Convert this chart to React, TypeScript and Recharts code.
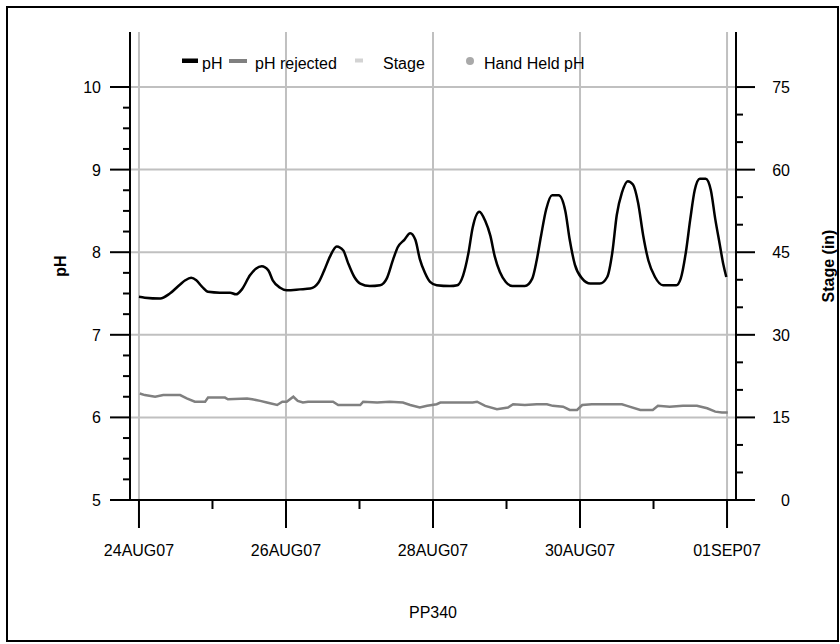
import React from 'react';
import { ComposedChart, Line, XAxis, YAxis, CartesianGrid, Legend, Label } from 'recharts';

// time in days since 24AUG07 00:00
const phTime = [0.00,0.08,0.29,0.42,0.56,0.63,0.71,0.78,0.86,0.94,1.10,1.24,1.32,1.40,1.51,1.59,1.67,1.76,1.82,1.92,2.01,2.19,2.33,2.44,2.52,2.60,2.69,2.78,2.84,2.93,3.01,3.14,3.28,3.37,3.46,3.52,3.61,3.69,3.76,3.82,3.89,3.96,4.05,4.23,4.33,4.41,4.48,4.54,4.63,4.71,4.78,4.84,4.91,4.99,5.08,5.25,5.35,5.41,5.47,5.54,5.62,5.71,5.80,5.86,5.93,6.03,6.14,6.27,6.37,6.44,6.50,6.57,6.65,6.72,6.79,6.86,6.93,7.02,7.13,7.31,7.37,7.44,7.50,7.56,7.63,7.71,7.78,7.84,7.90,7.95,7.99];
const phValue = [7.46,7.45,7.44,7.50,7.61,7.66,7.69,7.66,7.58,7.52,7.51,7.51,7.49,7.55,7.72,7.80,7.83,7.78,7.66,7.57,7.54,7.55,7.56,7.63,7.78,7.95,8.07,8.02,7.88,7.70,7.62,7.59,7.60,7.68,7.92,8.06,8.15,8.23,8.15,7.92,7.75,7.64,7.60,7.59,7.60,7.72,7.98,8.30,8.49,8.38,8.20,7.95,7.76,7.64,7.59,7.59,7.68,7.90,8.20,8.52,8.69,8.69,8.50,8.15,7.85,7.68,7.62,7.62,7.70,8.00,8.45,8.72,8.86,8.82,8.60,8.20,7.90,7.70,7.60,7.60,7.68,8.00,8.40,8.75,8.89,8.89,8.75,8.40,8.10,7.85,7.70];

const rejTime = [0.01,0.08,0.22,0.33,0.56,0.65,0.76,0.90,0.94,1.17,1.21,1.47,1.54,1.65,1.74,1.88,1.95,2.01,2.10,2.16,2.23,2.30,2.64,2.71,3.01,3.05,3.24,3.41,3.59,3.69,3.82,3.92,4.05,4.10,4.54,4.60,4.71,4.87,5.02,5.09,5.25,5.41,5.55,5.63,5.77,5.86,5.96,6.03,6.16,6.57,6.64,6.82,6.99,7.06,7.22,7.40,7.59,7.73,7.84,7.93,8.01];
const rejValue = [6.29,6.27,6.25,6.27,6.27,6.23,6.19,6.19,6.24,6.24,6.22,6.23,6.22,6.20,6.18,6.15,6.19,6.19,6.25,6.20,6.18,6.19,6.19,6.15,6.15,6.19,6.18,6.19,6.18,6.15,6.12,6.14,6.16,6.18,6.18,6.19,6.14,6.10,6.12,6.16,6.15,6.16,6.16,6.14,6.13,6.09,6.09,6.15,6.16,6.16,6.14,6.09,6.09,6.14,6.13,6.14,6.14,6.11,6.07,6.06,6.06];

const stageTime: number[] = [];
const stageValue: number[] = [];

const xTicks = [0, 1, 2, 3, 4, 5, 6, 7, 8];
const xTickLabels: Record<number, string> = { 0: '24AUG07', 2: '26AUG07', 4: '28AUG07', 6: '30AUG07', 8: '01SEP07' };
const phTicks = [5, 5.25, 5.5, 5.75, 6, 6.25, 6.5, 6.75, 7, 7.25, 7.5, 7.75, 8, 8.25, 8.5, 8.75, 9, 9.25, 9.5, 9.75, 10];
const phGrid = [6, 7, 8, 9, 10];
const stageTicks = [0, 5, 10, 15, 20, 25, 30, 35, 40, 45, 50, 55, 60, 65, 70, 75];
const dayGrid = [0, 2, 4, 6, 8];
const legendLabels = ['pH', 'pH rejected', 'Stage', 'Hand Held pH'];

const xDomain: [number, number] = [-0.122, 8.122];
const phDomain: [number, number] = [5, 10.666];
const stageDomain: [number, number] = [0, 85];

const phData = phTime.map((t, i) => ({ t, v: phValue[i] }));
const rejData = rejTime.map((t, i) => ({ t, v: rejValue[i] }));
const stageData = stageTime.map((t, i) => ({ t, v: stageValue[i] }));

const FONT = '"Liberation Sans", Arial, Helvetica, sans-serif';

const LeftTick = (props: any) => {
  const { x, y, payload } = props;
  const major = Number.isInteger(payload.value);
  return (
    <g>
      <line x1={x} x2={x - (major ? 20 : 7)} y1={y} y2={y} stroke="#000" strokeWidth={2} />
      {major && (
        <text x={x - 29} y={y + 6} textAnchor="end" fontSize={16} fontFamily={FONT} fill="#000">
          {payload.value}
        </text>
      )}
    </g>
  );
};

const RightTick = (props: any) => {
  const { x, y, payload } = props;
  const major = payload.value % 15 === 0;
  return (
    <g>
      <line x1={x} x2={x + (major ? 19 : 7)} y1={y} y2={y} stroke="#000" strokeWidth={2} />
      {major && (
        <text x={x + 54} y={y + 6} textAnchor="end" fontSize={16} fontFamily={FONT} fill="#000">
          {payload.value}
        </text>
      )}
    </g>
  );
};

const BottomTick = (props: any) => {
  const { x, y, payload } = props;
  const label = xTickLabels[payload.value];
  return (
    <g>
      <line x1={x} x2={x} y1={y} y2={y + (label ? 28 : 9)} stroke="#000" strokeWidth={2} />
      {label && (
        <text x={x} y={y + 56} textAnchor="middle" fontSize={16} fontFamily={FONT} fill="#000">
          {label}
        </text>
      )}
    </g>
  );
};

const renderLegend = () => (
  <svg width={840} height={80} style={{ display: 'block' }}>
    <rect x={182} y={58.5} width={16} height={4.5} fill="#000000" />
    <text x={202} y={69} fontSize={16} fontFamily={FONT} fill="#000">{legendLabels[0]}</text>
    <rect x={229} y={59} width={18} height={4} fill="#808080" />
    <text x={255} y={69} fontSize={16} fontFamily={FONT} fill="#000">{legendLabels[1]}</text>
    <rect x={355} y={58.5} width={8} height={4} fill="#d3d3d3" />
    <text x={383} y={69} fontSize={16} fontFamily={FONT} fill="#000">{legendLabels[2]}</text>
    <circle cx={470} cy={61} r={4} fill="#a9a9a9" />
    <text x={484} y={69} fontSize={16} fontFamily={FONT} fill="#000">{legendLabels[3]}</text>
  </svg>
);

export default function App() {
  return (
    <div style={{ position: 'absolute', left: 0, top: 0, width: 840, height: 644, background: '#fff' }}>
      <ComposedChart
        width={840}
        height={644}
        margin={{ top: 32, right: 34, bottom: 84, left: 60 }}
      >
        <CartesianGrid
          xAxisId="main"
          yAxisId="left"
          stroke="#c0c0c0"
          strokeWidth={2}
          horizontalValues={phGrid}
          verticalValues={dayGrid}
        />
        <XAxis
          xAxisId="main"
          type="number"
          dataKey="t"
          domain={xDomain}
          ticks={xTicks}
          interval={0}
          allowDataOverflow
          height={60}
          tickSize={0}
          tickMargin={0}
          tickLine={false}
          axisLine={{ stroke: '#000', strokeWidth: 2 }}
          tick={<BottomTick />}
        >
          <Label
            content={(p: any) => {
              const vb = p.viewBox;
              return (
                <text x={vb.x + vb.width / 2} y={vb.y + 118} textAnchor="middle" fontSize={16} fontFamily={FONT} fill="#000">
                  PP340
                </text>
              );
            }}
          />
        </XAxis>
        <XAxis
          xAxisId="top"
          orientation="top"
          type="number"
          dataKey="t"
          domain={xDomain}
          allowDataOverflow
          height={0}
          tick={false}
          tickLine={false}
          axisLine={{ stroke: '#000', strokeWidth: 2 }}
        />
        <YAxis
          yAxisId="left"
          orientation="left"
          type="number"
          domain={phDomain}
          ticks={phTicks}
          interval={0}
          allowDataOverflow
          width={70}
          tickSize={0}
          tickMargin={0}
          tickLine={false}
          axisLine={{ stroke: '#000', strokeWidth: 2 }}
          tick={<LeftTick />}
        >
          <Label
            content={(p: any) => {
              const vb = p.viewBox;
              const cx = vb.x + 6;
              const cy = vb.y + vb.height / 2;
              return (
                <text x={cx} y={cy} transform={`rotate(-90 ${cx} ${cy})`} textAnchor="middle" fontSize={16} fontWeight="bold" fontFamily={FONT} fill="#000">
                  pH
                </text>
              );
            }}
          />
        </YAxis>
        <YAxis
          yAxisId="right"
          orientation="right"
          type="number"
          domain={stageDomain}
          ticks={stageTicks}
          interval={0}
          allowDataOverflow
          width={70}
          tickSize={0}
          tickMargin={0}
          tickLine={false}
          axisLine={{ stroke: '#000', strokeWidth: 2 }}
          tick={<RightTick />}
        >
          <Label
            content={(p: any) => {
              const vb = p.viewBox;
              const cx = vb.x + 98;
              const cy = vb.y + vb.height / 2;
              return (
                <text x={cx} y={cy} transform={`rotate(-90 ${cx} ${cy})`} textAnchor="middle" fontSize={16} fontWeight="bold" fontFamily={FONT} fill="#000">
                  Stage (in)
                </text>
              );
            }}
          />
        </YAxis>
        <Legend
          verticalAlign="middle"
          align="center"
          layout="horizontal"
          content={renderLegend}
          wrapperStyle={{ position: 'absolute', left: 0, top: 0, width: 840, height: 80, margin: 0, padding: 0 }}
        />
        <Line
          xAxisId="main"
          yAxisId="right"
          data={stageData}
          dataKey="v"
          name="Stage"
          stroke="#d3d3d3"
          strokeWidth={2.5}
          dot={false}
          isAnimationActive={false}
        />
        <Line
          xAxisId="main"
          yAxisId="left"
          data={rejData}
          dataKey="v"
          name="pH rejected"
          type="linear"
          stroke="#808080"
          strokeWidth={2.5}
          dot={false}
          isAnimationActive={false}
        />
        <Line
          xAxisId="main"
          yAxisId="left"
          data={phData}
          dataKey="v"
          name="pH"
          type="monotone"
          stroke="#000000"
          strokeWidth={2.5}
          dot={false}
          isAnimationActive={false}
        />
      </ComposedChart>
      <div
        style={{
          position: 'absolute',
          left: 6,
          top: 6,
          width: 833,
          height: 636,
          border: '2px solid #000',
          boxSizing: 'border-box',
          pointerEvents: 'none',
        }}
      />
    </div>
  );
}
